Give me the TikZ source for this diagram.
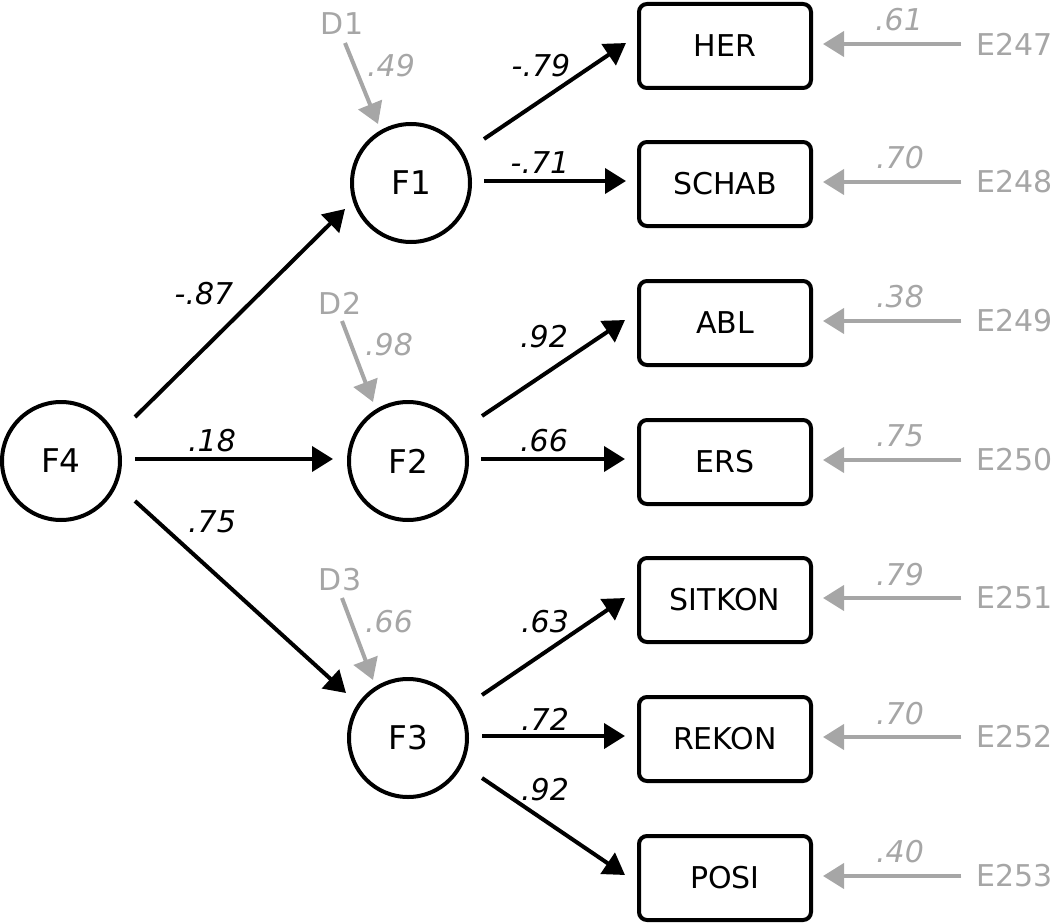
\documentclass[tikz,border=0pt]{standalone}
\usepackage{fontspec}
\setmainfont{DejaVu Sans}
\usetikzlibrary{arrows.meta}
\definecolor{eg}{RGB}{166,166,166}
\begin{document}
\begin{tikzpicture}[x=0.75pt,y=-0.75pt,
  every node/.style={font=\fontsize{22.5pt}{27pt}\selectfont},
  lat/.style={circle,draw,line width=3pt,minimum size=88.5pt,inner sep=0pt,font=\fontsize{24.5pt}{29pt}\selectfont},
  obs/.style={rectangle,draw,line width=3pt,rounded corners=6pt,minimum width=129pt,minimum height=63pt,inner sep=0pt},
  arr/.style={line width=3pt,-{Triangle[length=15.75pt,width=18.75pt]}},
  garr/.style={arr,draw=eg,fill=eg},
  coef/.style={font=\fontsize{22.5pt}{27pt}\selectfont\itshape,inner sep=0pt},
  gcoef/.style={coef,text=eg},
  err/.style={text=eg,inner sep=0pt}]
\useasboundingbox (0,0) rectangle (1053,924);
% latent
\node[lat] (F4) at (61,461) {F4};
\node[lat] (F1) at (411,183) {F1};
\node[lat] (F2) at (408,461) {F2};
\node[lat] (F3) at (408,738) {F3};
% observed
\node[obs] (HER) at (725,46) {HER};
\node[obs] (SCHAB) at (725,184) {SCHAB};
\node[obs] (ABL) at (725,323) {ABL};
\node[obs] (ERS) at (725,462) {ERS};
\node[obs] (SITKON) at (725,600) {SITKON};
\node[obs] (REKON) at (725,739) {REKON};
\node[obs] (POSI) at (725,878) {POSI};
% errors
\node[err,anchor=west] (E247) at (976,44) {E247};
\node[err,anchor=west] (E248) at (976,182) {E248};
\node[err,anchor=west] (E249) at (976,321) {E249};
\node[err,anchor=west] (E250) at (976,460) {E250};
\node[err,anchor=west] (E251) at (976,598) {E251};
\node[err,anchor=west] (E252) at (976,737) {E252};
\node[err,anchor=west] (E253) at (976,876) {E253};
% disturbances
\node[err] (D1) at (342,24) {D1};
\node[err] (D2) at (340,303) {D2};
\node[err] (D3) at (340,580) {D3};
% structural paths
\draw[arr] ([shift={(74,-44)}]F4.center) -- ([shift={(-66,26)}]F1.center);
\draw[arr] ([shift={(74,-2)}]F4.center) -- ([shift={(-75,-2)}]F2.center);
\draw[arr] ([shift={(74,40)}]F4.center) -- ([shift={(-62,-45)}]F3.center);
% loadings
\draw[arr] ([shift={(73,-44)}]F1.center) -- ([shift={(-99,-3)}]HER.center);
\draw[arr] ([shift={(73,-2)}]F1.center) -- ([shift={(-99,-3)}]SCHAB.center);
\draw[arr] ([shift={(74,-45)}]F2.center) -- ([shift={(-100,-3)}]ABL.center);
\draw[arr] ([shift={(73,-2)}]F2.center) -- ([shift={(-100,-3)}]ERS.center);
\draw[arr] ([shift={(74,-43)}]F3.center) -- ([shift={(-100,-2)}]SITKON.center);
\draw[arr] ([shift={(74,-2)}]F3.center) -- ([shift={(-100,-3)}]REKON.center);
\draw[arr] ([shift={(74,40)}]F3.center) -- ([shift={(-100,-3)}]POSI.center);
% error arrows
\draw[garr] ([xshift=-11]E247.west) -- ([shift={(98,-2)}]HER.center);
\draw[garr] ([xshift=-11]E248.west) -- ([shift={(98,-2)}]SCHAB.center);
\draw[garr] ([xshift=-11]E249.west) -- ([shift={(98,-2)}]ABL.center);
\draw[garr] ([xshift=-11]E250.west) -- ([shift={(98,-2)}]ERS.center);
\draw[garr] ([xshift=-11]E251.west) -- ([shift={(98,-2)}]SITKON.center);
\draw[garr] ([xshift=-11]E252.west) -- ([shift={(98,-2)}]REKON.center);
\draw[garr] ([xshift=-11]E253.west) -- ([shift={(98,-2)}]POSI.center);
% disturbance arrows
\draw[garr] ([shift={(3,19)}]D1.center) -- ([shift={(-33,-59)}]F1.center);
\draw[garr] ([shift={(2,18)}]D2.center) -- ([shift={(-35,-59)}]F2.center);
\draw[garr] ([shift={(2,18)}]D3.center) -- ([shift={(-35,-58)}]F3.center);
% coefficients
\node[coef] (c1) at (204,294) {-.87};
\node[coef] (c2) at (212,441) {.18};
\node[coef] (c3) at (212,522) {.75};
\node[coef] (c4) at (541,66) {-.79};
\node[coef] (c5) at (540,163) {-.71};
\node[coef] (c6) at (544,337) {.92};
\node[coef] (c7) at (544,441) {.66};
\node[coef] (c8) at (545,622) {.63};
\node[coef] (c9) at (545,719) {.72};
\node[coef] (c10) at (545,790) {.92};
% gray coefficients
\node[gcoef] (d1) at (391,66) {.49};
\node[gcoef] (d2) at (389,345) {.98};
\node[gcoef] (d3) at (389,622) {.66};
\node[gcoef] (e1) at (899,20) {.61};
\node[gcoef] (e2) at (900,158) {.70};
\node[gcoef] (e3) at (900,297) {.38};
\node[gcoef] (e4) at (900,436) {.75};
\node[gcoef] (e5) at (900,575) {.79};
\node[gcoef] (e6) at (900,714) {.70};
\node[gcoef] (e7) at (900,852) {.40};
\end{tikzpicture}
\end{document}
